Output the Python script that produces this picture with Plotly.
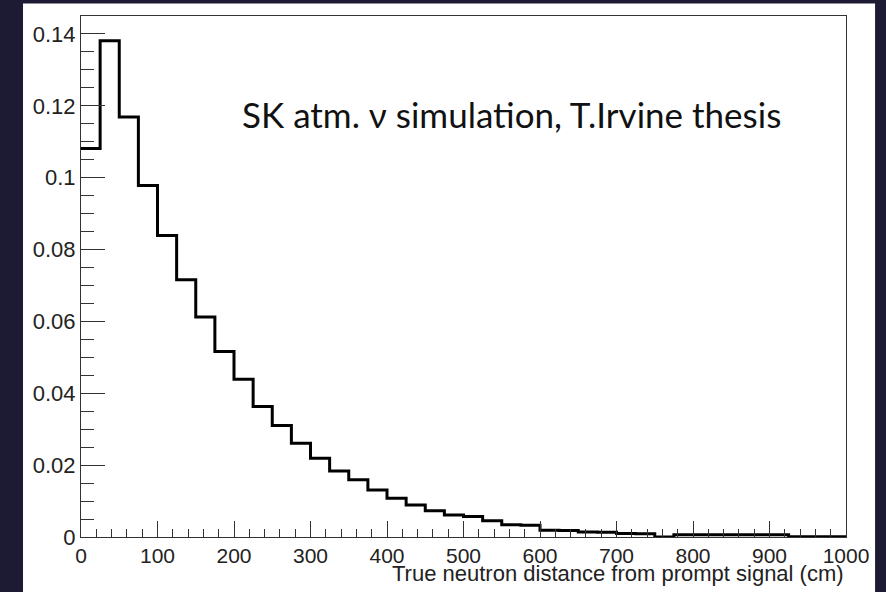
import numpy as np
import plotly.graph_objects as go

# Bin edges (cm) and normalized bin contents
bin_width = 25
bin_edges = list(range(0, 1001, bin_width))
bin_values = [
    0.1081, 0.1381, 0.1169, 0.0978, 0.0839, 0.0716, 0.0612, 0.0516,
    0.0439, 0.0363, 0.0310, 0.0261, 0.0219, 0.0184, 0.0159, 0.0131,
    0.0108, 0.0089, 0.0073, 0.0061, 0.0057, 0.0045, 0.0034, 0.0033,
    0.0019, 0.0018, 0.0014, 0.0013, 0.0010, 0.0009, 0.0000, 0.0006,
    0.0006, 0.0006, 0.0006, 0.0006, 0.0006, 0.0001, 0.0001, 0.0001,
]
x_ticks = [0, 100, 200, 300, 400, 500, 600, 700, 800, 900, 1000]
y_ticks = [0, 0.02, 0.04, 0.06, 0.08, 0.1, 0.12, 0.14]
y_tick_labels = ["0", "0.02", "0.04", "0.06", "0.08", "0.1", "0.12", "0.14"]

NAVY = "#1d1b33"
AX = "#333333"

fig = go.Figure()
fig.add_trace(go.Scatter(
    x=bin_edges,
    y=bin_values + [bin_values[-1]],
    mode="lines",
    line=dict(color="black", width=3, shape="hv"),
    hoverinfo="skip",
    showlegend=False,
))

xtickfont = dict(family="Liberation Sans, Arial, sans-serif", size=21, color="#222222")
ytickfont = dict(family="Liberation Sans, Arial, sans-serif", size=22, color="#222222")

fig.update_xaxes(
    range=[0, 1000], tickvals=x_ticks, ticktext=[str(v) for v in x_ticks],
    ticks="inside", ticklen=16, tickwidth=1, tickcolor=AX,
    minor=dict(dtick=20, tick0=0, ticks="inside", ticklen=8, tickwidth=1, tickcolor=AX),
    showline=True, linecolor=AX, linewidth=1, mirror=True,
    showgrid=False, zeroline=False, tickfont=xtickfont,
)
fig.update_yaxes(
    range=[0, 0.145], tickvals=y_ticks, ticktext=y_tick_labels,
    ticks="inside", ticklen=24, tickwidth=1, tickcolor=AX,
    minor=dict(dtick=0.005, tick0=0, ticks="inside", ticklen=13, tickwidth=1, tickcolor=AX),
    showline=True, linecolor=AX, linewidth=1, mirror=True,
    showgrid=False, zeroline=False, tickfont=ytickfont,
)

fig.add_shape(type="rect", xref="paper", yref="paper",
              x0=-0.0758, x1=1.038, y0=-0.12, y1=1.024,
              fillcolor="white", line=dict(width=0), layer="below")

fig.add_annotation(
    x=1000, xref="x", y=-0.0705, yref="paper",
    text="True neutron distance from prompt signal (cm)",
    showarrow=False, xanchor="right", yanchor="middle",
    font=dict(family="Liberation Sans, Arial, sans-serif", size=22, color="#222222"),
)
fig.add_annotation(
    x=208, xref="x", y=0.1178, yref="y",
    text="SK atm. ν simulation, T.Irvine thesis",
    showarrow=False, xanchor="left", yanchor="middle",
    font=dict(family="Lato, sans-serif", size=35, color="#111111"),
)

fig.update_layout(
    width=886, height=592,
    margin=dict(l=81, r=40, t=16, b=55),
    paper_bgcolor=NAVY, plot_bgcolor="white",
)

fig.write_html("out.html")
